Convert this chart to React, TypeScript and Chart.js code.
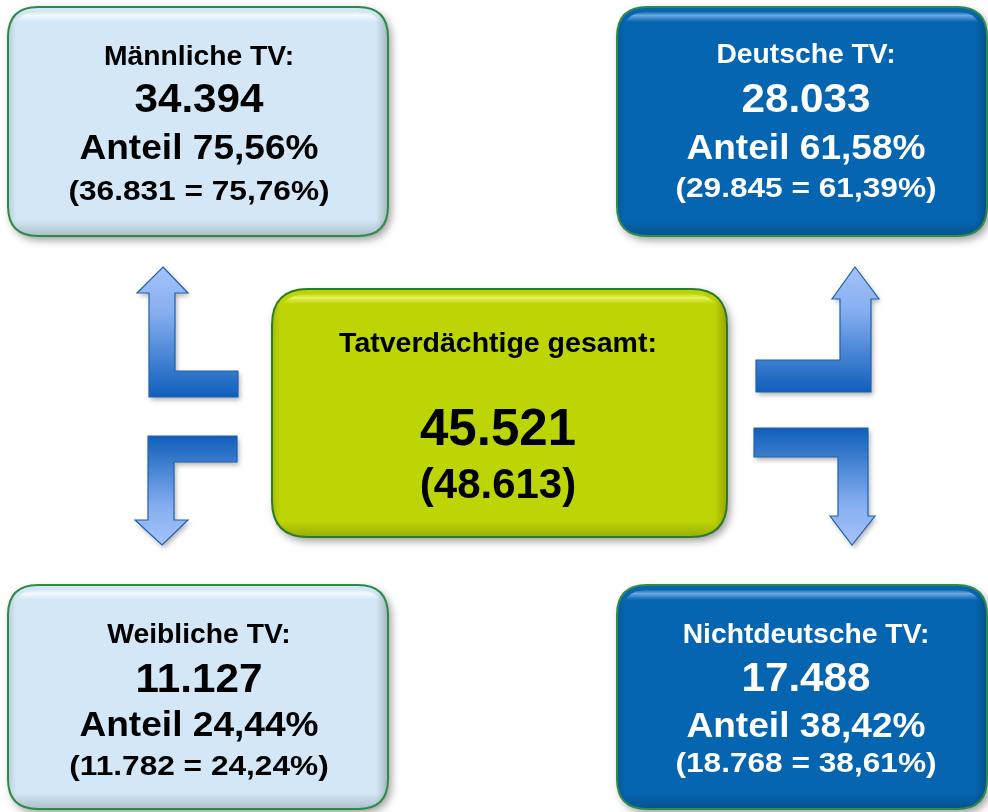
import React, { useEffect, useRef } from "react";
import { Chart, registerables } from "chart.js";

Chart.register(...registerables);

// ---------- data ----------
const CATEGORIES = ["Männliche TV:", "Deutsche TV:", "Weibliche TV:", "Nichtdeutsche TV:"];
const CURRENT = [34394, 28033, 11127, 17488];
const SHARE = [75.56, 61.58, 24.44, 38.42];
const PREVIOUS = [36831, 29845, 11782, 18768];
const PREVIOUS_SHARE = [75.76, 61.39, 24.24, 38.61];
const TOTAL_LABEL = "Tatverdächtige gesamt:";
const TOTAL = [45521];
const TOTAL_PREVIOUS = [48613];

// ---------- layout (chart units) ----------
const BOXES = [
  { x0: 8, y0: 7, x1: 388, y1: 236, theme: "light", cx: 199, base: [65, 112, 159, 200] },
  { x0: 617, y0: 7, x1: 987, y1: 236, theme: "dark", cx: 806, base: [63, 112, 159, 197] },
  { x0: 8, y0: 585, x1: 388, y1: 809, theme: "light", cx: 199, base: [643, 692, 736, 775] },
  { x0: 617, y0: 585, x1: 987, y1: 809, theme: "dark", cx: 806, base: [643, 691, 737, 772] },
];
const CENTER_BOX = { x0: 272, y0: 289, x1: 727, y1: 537, cx: 498, base: [352, 445, 498] };

const ARROWS = [
  { dir: "up", pts: [[163, 267], [188, 293], [175, 293], [175, 371], [238, 371], [238, 397], [149, 397], [149, 293], [137, 293]] },
  { dir: "up", pts: [[855, 267], [879, 299], [871, 299], [871, 392], [756, 392], [756, 360], [840, 360], [840, 299], [832, 299]] },
  { dir: "down", pts: [[148, 436], [237, 436], [237, 462], [174, 462], [174, 520], [188, 520], [162, 545], [135, 520], [148, 520]] },
  { dir: "down", pts: [[754, 428], [868, 428], [868, 516], [875, 516], [852, 545], [830, 516], [838, 516], [838, 457], [754, 457]] },
];

const THEMES: Record<string, { fill: string; border: string; text: string; gloss: string }> = {
  light: { fill: "#d3e7f6", border: "#2e8b45", text: "#000000", gloss: "255,255,255" },
  dark: { fill: "#0565b0", border: "#2e8b4a", text: "#ffffff", gloss: "140,190,240" },
  center: { fill: "#bdd405", border: "#2d7a2a", text: "#000000", gloss: "245,250,120" },
};

const FONT = '"Liberation Sans", Arial, sans-serif';

function fmtInt(v: number): string {
  const s = String(Math.round(v));
  return s.replace(/\B(?=(\d{3})+(?!\d))/g, ".");
}
function fmtPct(v: number): string {
  return v.toFixed(2).replace(".", ",") + "%";
}

function roundRectPath(ctx: CanvasRenderingContext2D, x0: number, y0: number, x1: number, y1: number, r: number) {
  ctx.beginPath();
  ctx.moveTo(x0 + r, y0);
  ctx.lineTo(x1 - r, y0);
  ctx.quadraticCurveTo(x1, y0, x1, y0 + r);
  ctx.lineTo(x1, y1 - r);
  ctx.quadraticCurveTo(x1, y1, x1 - r, y1);
  ctx.lineTo(x0 + r, y1);
  ctx.quadraticCurveTo(x0, y1, x0, y1 - r);
  ctx.lineTo(x0, y0 + r);
  ctx.quadraticCurveTo(x0, y0, x0 + r, y0);
  ctx.closePath();
}

const diagramPlugin = {
  id: "diagram",
  afterDatasetsDraw(chart: any) {
    const ctx: CanvasRenderingContext2D = chart.ctx;
    const xs = chart.scales.x;
    const ys = chart.scales.y;
    const px = (v: number) => xs.getPixelForValue(v);
    const py = (v: number) => ys.getPixelForValue(v);

    // arrows
    ARROWS.forEach((a) => {
      const yvals = a.pts.map((p) => py(p[1]));
      const top = Math.min(...yvals);
      const bot = Math.max(...yvals);
      const g = ctx.createLinearGradient(0, top, 0, bot);
      if (a.dir === "up") {
        g.addColorStop(0, "#a4c3fb");
        g.addColorStop(0.35, "#86aef0");
        g.addColorStop(1, "#0f5fbb");
      } else {
        g.addColorStop(0, "#0f5fbb");
        g.addColorStop(0.65, "#86aef0");
        g.addColorStop(1, "#a4c3fb");
      }
      ctx.save();
      ctx.beginPath();
      a.pts.forEach((p, i) => {
        if (i === 0) ctx.moveTo(px(p[0]), py(p[1]));
        else ctx.lineTo(px(p[0]), py(p[1]));
      });
      ctx.closePath();
      ctx.shadowColor = "rgba(0,0,0,0.3)";
      ctx.shadowBlur = 5;
      ctx.shadowOffsetX = 2;
      ctx.shadowOffsetY = 3;
      ctx.fillStyle = g;
      ctx.fill();
      ctx.shadowColor = "transparent";
      ctx.lineWidth = 1.2;
      ctx.strokeStyle = "#1f62ad";
      ctx.stroke();
      ctx.restore();
    });

    const drawBox = (b: any, theme: { fill: string; border: string; gloss: string }, r: number) => {
      const x0 = px(b.x0), y0 = py(b.y0), x1 = px(b.x1), y1 = py(b.y1);
      ctx.save();
      roundRectPath(ctx, x0, y0, x1, y1, r);
      ctx.shadowColor = "rgba(0,0,0,0.4)";
      ctx.shadowBlur = 8;
      ctx.shadowOffsetX = 3;
      ctx.shadowOffsetY = 4;
      ctx.fillStyle = theme.fill;
      ctx.fill();
      ctx.restore();

      // edge shading
      ctx.save();
      roundRectPath(ctx, x0, y0, x1, y1, r);
      ctx.clip();
      const bg = ctx.createLinearGradient(0, y1 - 16, 0, y1);
      bg.addColorStop(0, "rgba(0,0,0,0)");
      bg.addColorStop(1, "rgba(0,0,0,0.18)");
      ctx.fillStyle = bg;
      ctx.fillRect(x0, y1 - 16, x1 - x0, 16);
      const rg = ctx.createLinearGradient(x1 - 12, 0, x1, 0);
      rg.addColorStop(0, "rgba(0,0,0,0)");
      rg.addColorStop(1, "rgba(0,0,0,0.22)");
      ctx.fillStyle = rg;
      ctx.fillRect(x1 - 12, y0, 12, y1 - y0);
      const lg = ctx.createLinearGradient(x0, 0, x0 + 8, 0);
      lg.addColorStop(0, "rgba(0,0,0,0.12)");
      lg.addColorStop(1, "rgba(0,0,0,0)");
      ctx.fillStyle = lg;
      ctx.fillRect(x0, y0, 8, y1 - y0);
      ctx.restore();

      // thin gloss strip near the top following the rounded corners
      ctx.save();
      const inset = 5;
      roundRectPath(ctx, x0 + inset, y0 + inset, x1 - inset, y1 - inset, r - inset);
      ctx.clip();
      const hg = ctx.createLinearGradient(0, y0 + inset, 0, y0 + inset + 10);
      hg.addColorStop(0, `rgba(${theme.gloss},0.15)`);
      hg.addColorStop(0.35, `rgba(${theme.gloss},0.75)`);
      hg.addColorStop(1, `rgba(${theme.gloss},0)`);
      ctx.fillStyle = hg;
      ctx.fillRect(x0, y0 + inset, x1 - x0, 10);
      ctx.restore();

      ctx.save();
      roundRectPath(ctx, x0, y0, x1, y1, r);
      ctx.lineWidth = 2;
      ctx.strokeStyle = theme.border;
      ctx.stroke();
      ctx.restore();
    };

    const text = (s: string, x: number, y: number, size: number, color: string, stretch = 1) => {
      ctx.save();
      ctx.font = `bold ${size}px ${FONT}`;
      ctx.fillStyle = color;
      ctx.textAlign = "center";
      ctx.textBaseline = "alphabetic";
      ctx.translate(px(x), py(y));
      ctx.scale(stretch, 1);
      ctx.fillText(s, 0, 0);
      ctx.restore();
    };

    BOXES.forEach((b, i) => {
      const th = THEMES[b.theme];
      drawBox(b, th, 30);
      text(CATEGORIES[i], b.cx, b.base[0], 28, th.text, 1.01);
      text(fmtInt(CURRENT[i]), b.cx, b.base[1], 41, th.text, 1.03);
      text("Anteil " + fmtPct(SHARE[i]), b.cx, b.base[2], 35, th.text, 1.06);
      text("(" + fmtInt(PREVIOUS[i]) + " = " + fmtPct(PREVIOUS_SHARE[i]) + ")", b.cx, b.base[3], 28.5, th.text, 1.11);
    });

    const c = CENTER_BOX;
    const ct = THEMES.center;
    drawBox(c, ct, 36);
    text(TOTAL_LABEL, c.cx, c.base[0], 28.5, ct.text, 1.0);
    text(fmtInt(TOTAL[0]), c.cx, c.base[1], 51, ct.text, 1.0);
    text("(" + fmtInt(TOTAL_PREVIOUS[0]) + ")", c.cx, c.base[2], 42, ct.text, 1.0);
  },
};

export default function App() {
  const ref = useRef<HTMLCanvasElement | null>(null);
  useEffect(() => {
    if (!ref.current) return;
    const centers = BOXES.map((b) => ({ x: (b.x0 + b.x1) / 2, y: (b.y0 + b.y1) / 2 }));
    centers.push({ x: (CENTER_BOX.x0 + CENTER_BOX.x1) / 2, y: (CENTER_BOX.y0 + CENTER_BOX.y1) / 2 });
    const chart = new Chart(ref.current, {
      type: "scatter",
      data: {
        datasets: [{ data: centers, pointRadius: 0, pointHoverRadius: 0 }],
      },
      options: {
        responsive: false,
        animation: false,
        events: [],
        layout: { padding: 0 },
        scales: {
          x: { type: "linear", min: 0, max: 988, display: false },
          y: { type: "linear", min: 0, max: 812, reverse: true, display: false },
        },
        plugins: { legend: { display: false }, tooltip: { enabled: false }, title: { display: false } },
      },
      plugins: [diagramPlugin],
    } as any);
    return () => chart.destroy();
  }, []);
  return (
    <div style={{ position: "absolute", left: 0, top: 0, width: 988, height: 812, background: "#ffffff" }}>
      <canvas ref={ref} width={988} height={812} style={{ display: "block", width: 988, height: 812 }} />
    </div>
  );
}
